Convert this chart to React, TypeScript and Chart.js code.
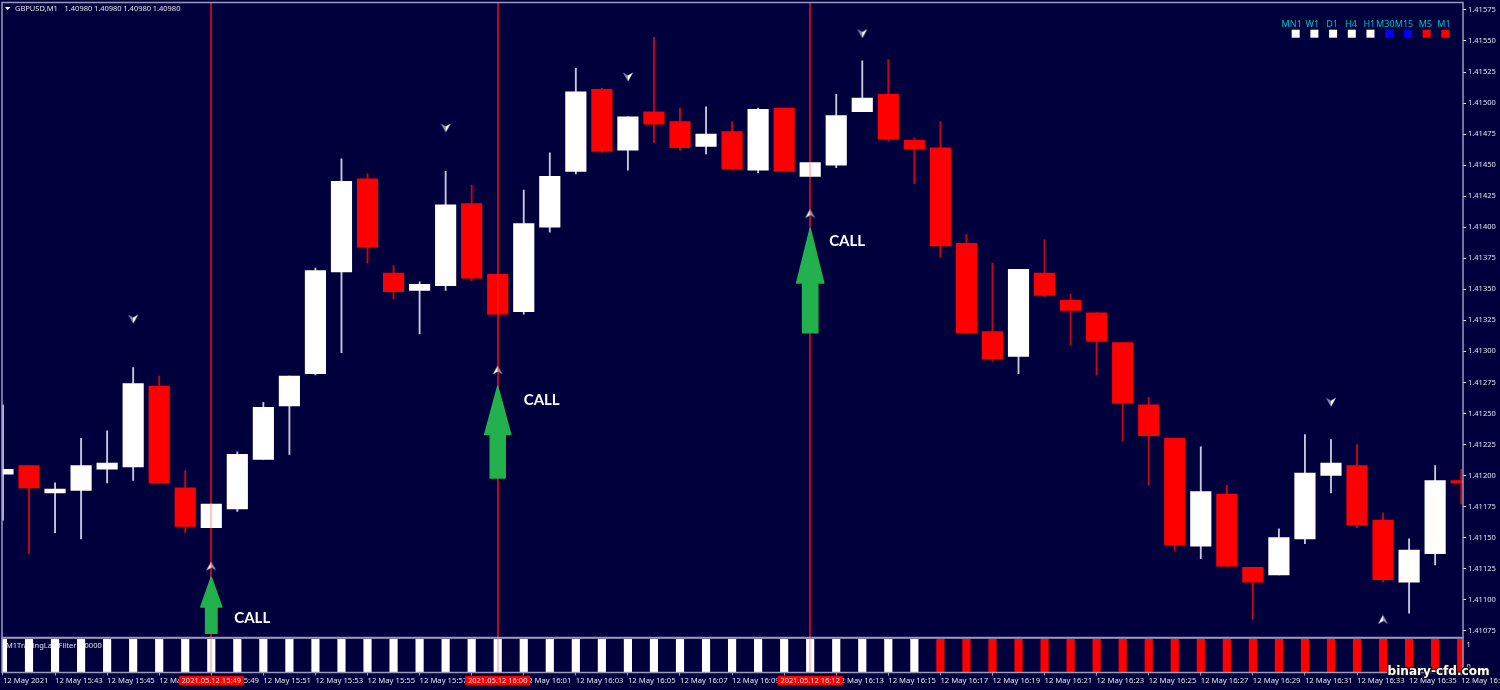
import React, { useEffect, useRef } from "react";
import { Chart, registerables } from "chart.js";

Chart.register(...registerables);

// M1 candles, one entry per minute from 15:41 to 16:37
const opens = [
  1.41201, 1.41208, 1.41186, 1.41188, 1.41205, 1.41207, 1.41272, 1.4119, 1.41158, 1.41173,
  1.41213, 1.41256, 1.41282, 1.41364, 1.41439, 1.41363, 1.41349, 1.41353, 1.41419, 1.41362,
  1.41332, 1.414, 1.41445, 1.41511, 1.41462, 1.41493, 1.41485, 1.41465, 1.41477, 1.41446,
  1.41496, 1.41441, 1.4145, 1.41493, 1.41507, 1.4147, 1.41464, 1.41387, 1.41316, 1.41296,
  1.41363, 1.41341, 1.41331, 1.41307, 1.41257, 1.4123, 1.41143, 1.41185, 1.41126, 1.4112,
  1.41149, 1.412, 1.41208, 1.41164, 1.41114, 1.41137, 1.41196,
];
const highs = [
  1.41257, 1.41208, 1.41194, 1.4123, 1.41236, 1.41287, 1.4128, 1.41204, 1.41177, 1.41219,
  1.41259, 1.4128, 1.41367, 1.41455, 1.41443, 1.41369, 1.41356, 1.41445, 1.41434, 1.41362,
  1.4143, 1.4146, 1.41528, 1.41512, 1.41489, 1.41553, 1.41496, 1.41497, 1.41485, 1.41496,
  1.41496, 1.41452, 1.41507, 1.41534, 1.41535, 1.41472, 1.41485, 1.41394, 1.41371, 1.41366,
  1.4139, 1.41346, 1.41331, 1.41307, 1.41263, 1.4123, 1.41223, 1.41192, 1.41126, 1.41157,
  1.41233, 1.41229, 1.41225, 1.4117, 1.41149, 1.41208, 1.41205,
];
const lows = [
  1.41164, 1.41137, 1.41154, 1.41149, 1.41194, 1.41196, 1.41194, 1.41154, 1.41158, 1.41171,
  1.41213, 1.41217, 1.41281, 1.41299, 1.41371, 1.41342, 1.41314, 1.41349, 1.41357, 1.4133,
  1.4133, 1.41396, 1.41443, 1.4146, 1.41446, 1.41468, 1.41462, 1.41459, 1.41446, 1.41444,
  1.41445, 1.41441, 1.41448, 1.41493, 1.41469, 1.41435, 1.41376, 1.41314, 1.41292, 1.41282,
  1.41344, 1.41305, 1.41281, 1.41228, 1.41192, 1.41139, 1.41133, 1.41127, 1.41084, 1.4112,
  1.41145, 1.41186, 1.41158, 1.41114, 1.41089, 1.41128, 1.41177,
];
const closes = [
  1.41205, 1.4119, 1.41189, 1.41208, 1.4121, 1.41274, 1.41194, 1.41159, 1.41177, 1.41217,
  1.41255, 1.4128, 1.41365, 1.41437, 1.41384, 1.41348, 1.41354, 1.41418, 1.41359, 1.4133,
  1.41403, 1.41441, 1.41509, 1.41461, 1.41489, 1.41483, 1.41464, 1.41475, 1.41447, 1.41495,
  1.41445, 1.41452, 1.4149, 1.41504, 1.41471, 1.41463, 1.41385, 1.41315, 1.41294, 1.41366,
  1.41345, 1.41333, 1.41308, 1.41258, 1.41232, 1.41144, 1.41187, 1.41127, 1.41114, 1.4115,
  1.41202, 1.4121, 1.4116, 1.41116, 1.4114, 1.41196, 1.41194,
];

// Sub-window histogram: one value per bar, state "u" is drawn white, "d" red
const filterValues = [
  1, 1, 1, 1, 1, 1, 1, 1, 1, 1, 1, 1, 1, 1, 1, 1, 1, 1, 1,
  1, 1, 1, 1, 1, 1, 1, 1, 1, 1, 1, 1, 1, 1, 1, 1, 1, 1, 1,
  1, 1, 1, 1, 1, 1, 1, 1, 1, 1, 1, 1, 1, 1, 1, 1, 1, 1, 1,
];
const filterStates = "uuuuuuuuuuuuuuuuuuuuuuuuuuuuuuuuuuuuddddddddddddddddddddd";

const xTickBars = [
  0, 2, 4, 6, 8, 10, 12, 14, 16, 18, 20, 22, 24, 26, 28, 30, 32, 34, 36, 38, 40, 42, 44, 46, 48, 50, 52, 54, 56,
];
const xTickLabels = [
  "12 May 2021", "12 May 15:43", "12 May 15:45", "12 May 15:47", "12 May 15:49", "12 May 15:51",
  "12 May 15:53", "12 May 15:55", "12 May 15:57", "12 May 15:59", "12 May 16:01", "12 May 16:03",
  "12 May 16:05", "12 May 16:07", "12 May 16:09", "12 May 16:11", "12 May 16:13", "12 May 16:15",
  "12 May 16:17", "12 May 16:19", "12 May 16:21", "12 May 16:23", "12 May 16:25", "12 May 16:27",
  "12 May 16:29", "12 May 16:31", "12 May 16:33", "12 May 16:35", "12 May 16:37",
];
const yTicks = [
  1.41075, 1.411, 1.41125, 1.4115, 1.41175, 1.412, 1.41225, 1.4125, 1.41275, 1.413, 1.41325,
  1.4135, 1.41375, 1.414, 1.41425, 1.4145, 1.41475, 1.415, 1.41525, 1.4155, 1.41575,
];

// Signals (vertical line, date stamp, green arrow, CALL text)
const signalBars = [8, 19, 31];
const signalStamps = ["2021.05.12 15:49", "2021.05.12 16:00", "2021.05.12 16:12"];
const arrowTips = [1.41118, 1.41272, 1.41399];
const arrowNecks = [1.41094, 1.41233, 1.41355];
const arrowTails = [1.41073, 1.41198, 1.41315];
const callPrices = [1.41085, 1.41261, 1.41389];

// Small indicator markers
const upMarkerBars = [8, 19, 31, 53];
const upMarkerPrices = [1.41127, 1.41285, 1.41411, 1.41084];
const downMarkerBars = [5, 17, 24, 33, 51];
const downMarkerPrices = [1.41326, 1.4148, 1.41521, 1.41556, 1.41259];

// Multi-timeframe panel
const tfNames = ["MN1", "W1", "D1", "H4", "H1", "M30", "M15", "M5", "M1"];
const tfColors = ["#ffffff", "#ffffff", "#ffffff", "#ffffff", "#ffffff", "#0000ff", "#0000ff", "#ff0000", "#ff0000"];

const NAVY = "#00003c";
const FRAME = "#9a9abc";
const TEXT = "#e0e0ec";
const FONT = '"Noto Sans"';

function makeMarker(up: boolean) {
  const c = document.createElement("canvas");
  c.width = 12;
  c.height = 10;
  const g = c.getContext("2d")!;
  if (!up) {
    g.translate(0, 10);
    g.scale(1, -1);
  }
  g.fillStyle = up ? "#ffffff" : "#8f8fb4";
  g.beginPath();
  g.moveTo(6, 0.5);
  g.lineTo(6, 6.5);
  g.lineTo(1, 9.5);
  g.closePath();
  g.fill();
  g.fillStyle = up ? "#8f8fb4" : "#ffffff";
  g.beginPath();
  g.moveTo(6, 0.5);
  g.lineTo(11, 9.5);
  g.lineTo(6, 6.5);
  g.closePath();
  g.fill();
  return c;
}

const overlay = {
  id: "overlay",
  beforeDatasetsDraw(chart: any) {
    const { ctx, chartArea: a, scales } = chart;
    ctx.save();
    // sub-window label sits behind the histogram bars
    ctx.fillStyle = TEXT;
    ctx.font = `7.5px ${FONT}`;
    ctx.textBaseline = "middle";
    ctx.fillText("M1TradingLab Filter 1.0000", 6, 646);
    // signal lines
    ctx.strokeStyle = "#b80416";
    ctx.lineWidth = 1.6;
    signalBars.forEach((b) => {
      const x = Math.round(scales.x.getPixelForValue(b));
      ctx.beginPath();
      ctx.moveTo(x, a.top);
      ctx.lineTo(x, a.bottom);
      ctx.stroke();
    });
    ctx.restore();
  },
  afterDatasetsDraw(chart: any) {
    const { ctx, chartArea: a, scales } = chart;
    const { x: X, y: Y } = scales;
    ctx.save();
    // line seen through candles and histogram
    ctx.strokeStyle = "rgba(255,40,50,0.45)";
    ctx.lineWidth = 1.2;
    signalBars.forEach((b) => {
      const x = Math.round(X.getPixelForValue(b));
      ctx.beginPath();
      ctx.moveTo(x, a.top);
      ctx.lineTo(x, a.bottom);
      ctx.stroke();
    });
    // frames
    ctx.strokeStyle = FRAME;
    ctx.lineWidth = 1.5;
    ctx.strokeRect(a.left, a.top, a.right - a.left, Y.bottom - a.top);
    ctx.strokeRect(a.left, scales.y2.top + 0.5, a.right - a.left, a.bottom - scales.y2.top - 0.5);
    // green arrows
    const widths = [
      [11.5, 6.7],
      [14, 8.5],
      [14.6, 8.6],
    ];
    const callOffsets = [23, 26, 19];
    ctx.fillStyle = "#22b14c";
    ctx.strokeStyle = "#22b14c";
    ctx.lineJoin = "round";
    ctx.lineWidth = 1.5;
    signalBars.forEach((b, i) => {
      const x = X.getPixelForValue(b);
      const tip = Y.getPixelForValue(arrowTips[i]);
      const neck = Y.getPixelForValue(arrowNecks[i]);
      const tail = Y.getPixelForValue(arrowTails[i]);
      const [hw, sw] = widths[i];
      ctx.fillStyle = "#22b14c";
      ctx.beginPath();
      ctx.moveTo(x, tip);
      ctx.lineTo(x + hw - 1, neck);
      ctx.lineTo(x + sw - 1, neck);
      ctx.lineTo(x + sw - 1, tail);
      ctx.lineTo(x - sw + 1, tail);
      ctx.lineTo(x - sw + 1, neck);
      ctx.lineTo(x - hw + 1, neck);
      ctx.closePath();
      ctx.fill();
      ctx.stroke();
      // CALL text
      ctx.fillStyle = "#ffffff";
      ctx.font = "bold 15px Lato";
      ctx.textAlign = "left";
      ctx.textBaseline = "middle";
      ctx.fillText("CALL", x + callOffsets[i], Y.getPixelForValue(callPrices[i]));
    });
    ctx.restore();
  },
  afterDraw(chart: any) {
    const { ctx, scales, chartArea: a } = chart;
    const X = scales.x;
    ctx.save();
    // top-left title
    ctx.fillStyle = "#ffffff";
    ctx.beginPath();
    ctx.moveTo(5, 7);
    ctx.lineTo(10.5, 7);
    ctx.lineTo(7.7, 10);
    ctx.closePath();
    ctx.fill();
    ctx.fillStyle = TEXT;
    ctx.font = `7.5px ${FONT}`;
    ctx.textBaseline = "middle";
    ctx.textAlign = "left";
    ctx.fillText("GBPUSD,M1", 15, 8.5);
    ["1.40980", "1.40980", "1.40980", "1.40980"].forEach((t, i) => {
      ctx.fillText(t, 64.5 + i * 29.4, 8.5);
    });
    // timeframe panel
    const labelXs = [1291.7, 1312.3, 1332, 1351, 1369.3, 1385.3, 1404, 1425.3, 1444];
    tfNames.forEach((name, i) => {
      ctx.fillStyle = "#00bcc4";
      ctx.font = `9px ${FONT}`;
      ctx.textAlign = "center";
      ctx.fillText(name, labelXs[i], 24.8);
      ctx.fillStyle = tfColors[i];
      ctx.fillRect(1291.7 + i * 18.7, 29.7, 8, 8);
    });
    // sub-window scale
    ctx.fillStyle = TEXT;
    ctx.font = `7.5px ${FONT}`;
    ctx.textAlign = "left";
    ctx.fillText("1", a.right + 3.5, 645);
    ctx.fillText("0", a.right + 3.5, 667);
    // date stamps
    signalBars.forEach((b, i) => {
      const x = X.getPixelForValue(b);
      ctx.fillStyle = "#ff0000";
      ctx.fillRect(x - 32.5, 676, 65, 9);
      ctx.fillStyle = "#e8e0e0";
      ctx.font = `7.5px ${FONT}`;
      ctx.textAlign = "center";
      ctx.fillText(signalStamps[i], x, 681);
    });
    // watermark
    ctx.font = 'bold 12.1px "DejaVu Sans"';
    ctx.textAlign = "left";
    ctx.lineWidth = 2.5;
    ctx.strokeStyle = "#101020";
    ctx.strokeText("binary-cfd.com", 1387.5, 671.5);
    ctx.fillStyle = "#ffffff";
    ctx.fillText("binary-cfd.com", 1387.5, 671.5);
    ctx.restore();
  },
};

export default function App() {
  const ref = useRef<HTMLCanvasElement | null>(null);

  useEffect(() => {
    document.body.style.margin = "0";
    document.body.style.background = NAVY;
    const bars = opens.map((_, i) => i);
    const up = opens.map((o, i) => closes[i] >= o);
    const chart = new Chart(ref.current!, {
      type: "bar",
      plugins: [overlay],
      data: {
        datasets: [
          {
            type: "line",
            label: "up markers",
            data: upMarkerBars.map((b, i) => ({ x: b, y: upMarkerPrices[i] })),
            showLine: false,
            pointStyle: makeMarker(true),
            yAxisID: "y",
            order: 0,
          },
          {
            type: "line",
            label: "down markers",
            data: downMarkerBars.map((b, i) => ({ x: b, y: downMarkerPrices[i] })),
            showLine: false,
            pointStyle: makeMarker(false),
            yAxisID: "y",
            order: 0,
          },
          {
            label: "bodies",
            data: bars.map((i) => ({ x: i, y: [opens[i], closes[i]] })),
            backgroundColor: up.map((u) => (u ? "#ffffff" : "#ff0000")),
            barThickness: 20.5,
            grouped: false,
            yAxisID: "y",
            order: 1,
          },
          {
            label: "wicks",
            data: bars.map((i) => ({ x: i, y: [lows[i], highs[i]] })),
            backgroundColor: up.map((u) => (u ? "#c8c8dc" : "#c80418")),
            barThickness: 1.2,
            grouped: false,
            yAxisID: "y",
            order: 2,
          },
          {
            label: "filter",
            data: bars.map((i) => ({ x: i, y: filterValues[i] })),
            backgroundColor: bars.map((i) => (filterStates[i] === "u" ? "#ffffff" : "#ff0000")),
            barThickness: 7.5,
            grouped: false,
            yAxisID: "y2",
            order: 3,
          },
        ] as any,
      },
      options: {
        responsive: false,
        animation: false,
        devicePixelRatio: 1,
        layout: { autoPadding: false, padding: { left: 2, top: 2.5, right: 0, bottom: 0 } },
        plugins: { legend: { display: false }, tooltip: { enabled: false }, title: { display: false } },
        elements: { point: { radius: 6 } },
        events: [],
        scales: {
          x: {
            type: "linear",
            offset: false,
            min: -0.0369,
            max: 56.07,
            afterBuildTicks: (s: any) => {
              s.ticks = xTickBars.map((v) => ({ value: v }));
            },
            afterFit: (s: any) => {
              s.height = 17.5;
              s.paddingLeft = 0;
              s.paddingRight = 0;
            },
            grid: { display: true, offset: false, drawOnChartArea: false, drawTicks: true, tickLength: 3, tickColor: FRAME, tickWidth: 1 },
            border: { display: false },
            ticks: {
              autoSkip: false,
              maxRotation: 0,
              minRotation: 0,
              align: "start",
              padding: 1,
              color: TEXT,
              font: { family: "Noto Sans", size: 7.7 },
              callback: (v: any) => xTickLabels[xTickBars.indexOf(v)] ?? "",
            },
          },
          y: {
            type: "linear",
            position: "right",
            stack: "panes",
            stackWeight: 635,
            min: 1.410695,
            max: 1.41581,
            afterBuildTicks: (s: any) => {
              s.ticks = yTicks.map((v) => ({ value: v }));
            },
            afterFit: (s: any) => {
              s.width = 37;
              s.paddingTop = 0;
              s.paddingBottom = 0;
            },
            grid: { display: true, drawOnChartArea: false, drawTicks: true, tickLength: 3, tickColor: TEXT, tickWidth: 1 },
            border: { display: false },
            ticks: {
              padding: 2,
              color: TEXT,
              font: { family: "Noto Sans", size: 7.5 },
              callback: (v: any) => Number(v).toFixed(5),
            },
          },
          y2: {
            type: "linear",
            position: "right",
            stack: "panes",
            stackWeight: 35,
            min: 0,
            max: 1.054,
            afterFit: (s: any) => {
              s.width = 37;
              s.paddingTop = 0;
              s.paddingBottom = 0;
            },
            grid: { display: false },
            border: { display: false },
            ticks: { display: false },
          },
        },
      } as any,
    });
    return () => chart.destroy();
  }, []);

  return (
    <div style={{ width: 1500, height: 690, background: NAVY, overflow: "hidden" }}>
      <canvas ref={ref} width={1500} height={690} style={{ display: "block" }} />
    </div>
  );
}
